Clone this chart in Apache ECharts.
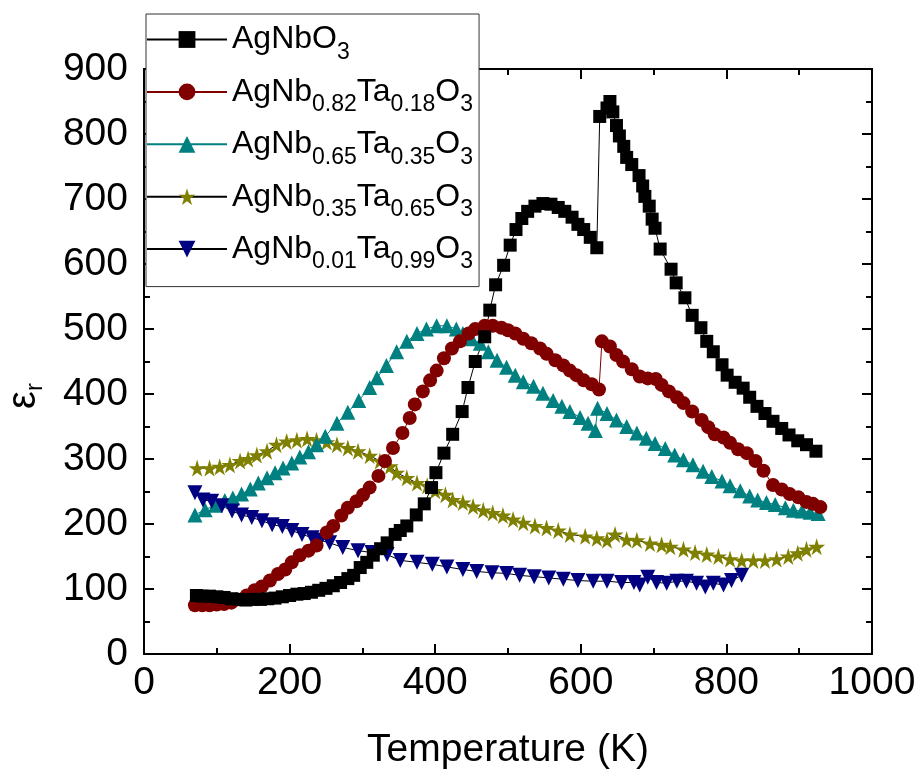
<!DOCTYPE html>
<html><head><meta charset="utf-8">
<script src="https://cdn.jsdelivr.net/npm/echarts@6/dist/echarts.min.js"></script>
<style>html,body{margin:0;padding:0;background:#fff}#c{width:920px;height:775px}</style>
</head><body><div id="c"></div>
<script>
// ---- data ----
const tNb = [72,80,90,100,110,120,130,140,150,160,170,180,190,200,210,220,230,240,250,260,270,280,288,297,306,315,325,334,345,352,361,374,385,395,401,412,424,437,445,455,468,475,483,494,503,511,519,527,537,548,559,569,578,588,596,604,613,622,626,636,640,644,649,653,659,663,670,680,685,688,694,698,702,709,724,731,743,753,765,773,782,794,801,812,823,832,842,853,864,876,886,898,910,923];
const eNb = [90,89,89,88,87,85,84,83,84,84,85,86,88,90,92,93,95,98,101,105,110,116,121,133,141,152,162,171,184,190,197,214,231,256,279,309,338,373,410,450,488,529,568,598,629,653,670,681,689,693,692,687,681,672,661,653,641,625,827,840,850,834,813,797,781,764,753,736,720,704,689,669,655,623,592,571,548,521,502,481,465,445,429,418,409,395,381,370,358,347,337,328,322,312];

const tT18 = [70,80,90,100,110,120,128,141,152,162,173,184,194,203,214,226,237,251,260,271,280,292,301,310,322,331,342,355,365,372,383,393,402,412,423,434,446,455,468,479,491,500,510,521,532,544,553,565,576,585,594,604,615,625,629,640,649,658,670,681,692,703,711,721,732,741,753,766,775,784,796,805,816,828,840,851,864,876,887,899,910,919,929];
const eT18 = [75,75,75,76,77,79,84,90,98,104,113,123,130,141,152,159,167,187,197,213,225,235,245,256,274,297,317,340,363,384,404,421,436,455,470,481,493,500,505,505,502,498,493,485,478,470,462,452,444,436,429,421,415,407,481,473,460,450,438,427,424,423,414,404,395,386,373,360,349,338,333,325,315,309,297,282,260,253,246,241,234,231,226];

const tT35 = [70,84,98,111,122,134,146,157,169,180,191,203,214,226,237,249,265,280,295,310,320,333,347,361,375,388,402,416,429,438,450,462,473,485,498,510,521,535,548,562,574,585,599,610,620,623,636,649,663,677,690,702,716,729,741,754,768,780,794,805,819,832,843,855,867,881,892,904,915,926];
const eT35 = [214,222,229,236,240,246,254,263,271,279,286,294,303,311,322,335,355,372,390,410,425,444,465,481,493,500,505,505,500,493,485,478,465,452,441,429,419,412,401,390,381,373,364,355,344,378,370,360,350,340,332,324,316,306,299,291,281,273,266,259,251,243,237,233,230,225,221,220,218,216];

const tT65 = [73,90,104,118,132,143,155,169,182,196,210,224,237,251,265,280,294,310,324,338,347,361,375,389,400,414,424,438,452,466,479,493,507,521,537,553,569,585,606,622,636,647,663,677,695,711,723,741,757,773,789,805,821,837,853,869,885,898,910,924];
const eT65 = [286,286,288,291,297,300,306,312,322,327,329,331,329,326,322,317,312,305,297,289,279,271,263,259,251,245,237,233,227,221,217,213,207,202,197,194,190,184,181,178,175,184,176,175,170,168,165,161,156,153,150,146,144,144,144,146,150,155,161,165];

const tT99 = [70,81,93,107,121,134,148,162,176,190,203,217,231,242,255,273,294,313,334,352,375,396,416,438,457,478,498,516,536,556,576,596,617,636,656,673,681,692,704,718,732,745,759,771,782,796,807,821];
const eT99 = [248,237,235,228,220,214,210,205,199,196,190,184,179,175,171,164,159,156,153,144,141,138,134,130,127,125,124,121,119,117,115,113,112,112,110,110,106,118,110,109,112,112,109,103,109,106,113,121];

const seriesNames = ['AgNbO3','AgNb0.82Ta0.18O3','AgNb0.65Ta0.35O3','AgNb0.35Ta0.65O3','AgNb0.01Ta0.99O3'];
const legendLabels = {
  'AgNbO3': 'AgNbO{s|3}',
  'AgNb0.82Ta0.18O3': 'AgNb{s|0.82}Ta{s|0.18}O{s|3}',
  'AgNb0.65Ta0.35O3': 'AgNb{s|0.65}Ta{s|0.35}O{s|3}',
  'AgNb0.35Ta0.65O3': 'AgNb{s|0.35}Ta{s|0.65}O{s|3}',
  'AgNb0.01Ta0.99O3': 'AgNb{s|0.01}Ta{s|0.99}O{s|3}'
};
const xMin = 0, xMax = 1000, xStep = 200;
const yMin = 0, yMax = 900, yStep = 100;

// ---- chart ----
const FONT = '"Liberation Sans", Arial, sans-serif';
const STAR = 'path://M50,0 L61,35 L98,35 L68,57 L79,91 L50,70 L21,91 L32,57 L2,35 L39,35 Z';
const zip = (t, e) => t.map((v, i) => [v, e[i]]);

function axisCommon(show, margin) {
  return {
    axisLine: { show: true, onZero: false, lineStyle: { color: '#000', width: 2 } },
    axisTick: { show: true, inside: true, length: 10, lineStyle: { color: '#000', width: 2 } },
    minorTick: { show: true, splitNumber: 2, length: 6, lineStyle: { color: '#000', width: 2 } },
    splitLine: { show: false },
    minorSplitLine: { show: false },
    axisLabel: { show: show, color: '#000', fontSize: 39, fontFamily: FONT, margin: margin || 8,
                 formatter: (v) => String(v) }
  };
}

const chart = echarts.init(document.getElementById('c'), null, { renderer: 'canvas' });

const mk = (name, t, e, symbol, size, color, lineColor, extra) => Object.assign({
  name: name, type: 'line', data: zip(t, e),
  symbol: symbol, symbolSize: size, showAllSymbol: true,
  itemStyle: { color: color, borderWidth: 0 },
  lineStyle: { color: lineColor, width: 1 },
  emphasis: { disabled: true },
  xAxisIndex: 0, yAxisIndex: 0, z: 3
}, extra || {});

const option = {
  animation: false,
  backgroundColor: '#fff',
  grid: { left: 144, right: 48, top: 69, bottom: 118, containLabel: false },
  xAxis: [
    Object.assign(axisCommon(true, 10), {
      type: 'value', min: xMin, max: xMax, interval: xStep, position: 'bottom',
      name: 'Temperature (K)', nameLocation: 'middle', nameGap: 77,
      nameTextStyle: { color: '#000', fontSize: 39, fontFamily: FONT }
    }),
    Object.assign(axisCommon(false), {
      type: 'value', min: xMin, max: xMax, interval: xStep, position: 'top'
    })
  ],
  yAxis: [
    Object.assign(axisCommon(true, 16), {
      type: 'value', min: yMin, max: yMax, interval: yStep, position: 'left'
    }),
    Object.assign(axisCommon(false), {
      type: 'value', min: yMin, max: yMax, interval: yStep, position: 'right'
    })
  ],
  legend: {
    data: seriesNames,
    orient: 'vertical', left: 146, top: 14,
    padding: [1, 6, 13, 0], itemGap: 3.4,
    itemWidth: 80, itemHeight: 21,
    backgroundColor: '#fff', borderColor: '#333', borderWidth: 1,
    selectedMode: false,
    formatter: (n) => legendLabels[n],
    textStyle: {
      color: '#000', fontSize: 32, fontFamily: FONT, lineHeight: 40,
      rich: { s: { fontSize: 23, fontFamily: FONT, color: '#000', lineHeight: 40, padding: [26, 0, 0, 0] } }
    }
  },
  graphic: [{
    type: 'text', x: 24, y: 396, rotation: Math.PI / 2,
    style: {
      text: '{e|ε}{r|r}', align: 'center', verticalAlign: 'middle',
      rich: {
        e: { fontSize: 40, fontFamily: FONT, color: '#000', lineHeight: 40 },
        r: { fontSize: 24, fontFamily: FONT, color: '#000', lineHeight: 40, padding: [22, 0, 0, 0] }
      }
    }
  }],
  series: [
    mk('AgNb0.35Ta0.65O3', tT65, eT65, STAR, 17, '#808000', '#000'),
    mk('AgNb0.65Ta0.35O3', tT35, eT35, 'triangle', 15, '#008080', '#008080'),
    mk('AgNb0.01Ta0.99O3', tT99, eT99, 'triangle', 15, '#000080', '#000', { symbolRotate: 180 }),
    mk('AgNb0.82Ta0.18O3', tT18, eT18, 'circle', 14, '#800000', '#800000'),
    mk('AgNbO3', tNb, eNb, 'rect', 13, '#000', '#000')
  ]
};
chart.setOption(option);
</script></body></html>
